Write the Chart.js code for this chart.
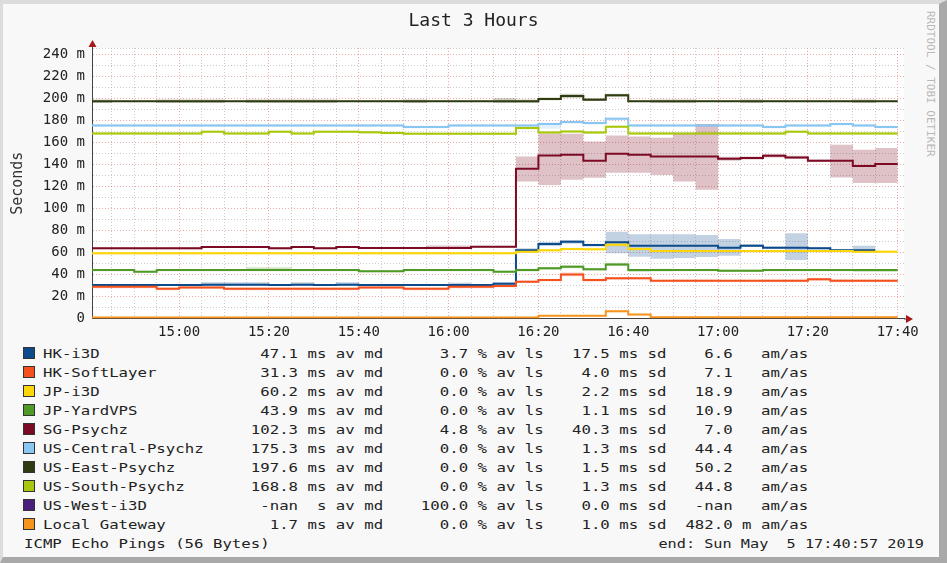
<!DOCTYPE html>
<html>
<head>
<meta charset="utf-8">
<title>Last 3 Hours</title>
<script src="https://cdn.jsdelivr.net/npm/chart.js@4.4.0/dist/chart.umd.min.js"></script>
<style>
  html, body { margin: 0; padding: 0; background: #fff; }
  #frame {
    position: absolute; left: 0; top: 0; width: 947px; height: 563px; box-sizing: border-box;
    background: #f8f8f8;
    border-top: 4px solid #dcdcdc; border-left: 3px solid #dcdcdc;
    border-right: 8px solid #a9a9a9; border-bottom: 6px solid #a9a9a9;
  }
  #chartBox { position: absolute; left: 0; top: 0; width: 947px; height: 340px; }
  .row {
    position: absolute; height: 17px; line-height: 17px;
    font-family: 'DejaVu Sans Mono', monospace; font-size: 13px; color: #222; white-space: pre;
  }
  .sw { position: absolute; left: 23px; width: 10px; height: 10px; border: 1px solid #333; }
  .txt { left: 43px; transform: scaleX(1.207); transform-origin: 0 50%; }
  #brand {
    position: absolute; left: 924px; top: 11px; writing-mode: vertical-rl;
    font: 11px 'DejaVu Sans Mono', monospace; color: #b8b8b8;
  }
</style>
</head>
<body>
<div id="frame"></div>
<div id="brand">RRDTOOL / TOBI OETIKER</div>
<div id="chartBox"><canvas id="myChart" width="947" height="340"></canvas></div>
<div id="legend"></div>
<script>
// 5 minute buckets, start times
const bucketStarts = ['14:40', '14:45', '14:50', '14:55', '15:00', '15:05', '15:10', '15:15', '15:20', '15:25',
    '15:30', '15:35', '15:40', '15:45', '15:50', '15:55', '16:00', '16:05', '16:10', '16:15',
    '16:20', '16:25', '16:30', '16:35', '16:40', '16:45', '16:50', '16:55', '17:00', '17:05',
    '17:10', '17:15', '17:20', '17:25', '17:30', '17:35'];
const bucketMinutes = 5;
const timeTickLabels = ['15:00', '15:20', '15:40', '16:00', '16:20', '16:40', '17:00', '17:20', '17:40'];
const yGridMs = [0, 10, 20, 30, 40, 50, 60, 70, 80, 90, 100, 110, 120, 130, 140, 150, 160, 170, 180, 190, 200, 210, 220, 230, 240, 246];
const yLabelMs = [0, 20, 40, 60, 80, 100, 120, 140, 160, 180, 200, 220, 240];

const targets = ['HK-i3D', 'HK-SoftLayer', 'JP-i3D', 'JP-YardVPS', 'SG-Psychz', 'US-Central-Psychz',
    'US-East-Psychz', 'US-South-Psychz', 'US-West-i3D', 'Local Gateway'];
const targetColors = ['#0b4a8b', '#f4511e', '#fbd70a', '#4f9a27', '#7d0a25', '#8ac6f2',
    '#2f3b10', '#a9c70c', '#4a1f7d', '#f7941d'];

// median per bucket (ms) and smoke band (lo / hi)
const hkI3dMed = [30.4, 30.4, 30.4, 30.4, 30.4, 30.6, 30.6, 30.6, 30.4, 30.6, 30.4, 30.6, 30.4, 30.4, 30.4, 30.4, 30.4, 30.4,
    31.5, 62.0, 67.7, 69.8, 66.8, 69.3, 66.2, 66.2, 66.2, 66.2, 64.4, 66.2, 64.4, 64.4, 63.8, 62.0, 62.0, null];
const hkI3dLo = [30.0, 30.0, 30.0, 30.0, 30.0, 30.0, 30.0, 30.0, 30.0, 30.0, 30.0, 30.0, 30.0, 30.0, 30.0, 30.0, 30.0, 30.0,
    30.6, 60.0, 66.0, 68.0, 65.5, 59.3, 56.2, 54.3, 55.0, 55.9, 57.1, 65.0, 63.5, 53.1, 63.0, 61.0, 60.4, null];
const hkI3dHi = [31.0, 31.0, 31.0, 31.0, 31.0, 33.0, 33.0, 33.0, 31.0, 33.0, 31.0, 33.0, 31.0, 31.0, 31.0, 31.0, 32.6, 31.0,
    33.0, 64.0, 69.5, 71.5, 68.0, 79.0, 76.6, 76.6, 76.6, 75.9, 72.3, 67.5, 65.5, 77.5, 65.0, 63.0, 66.2, null];

const hkSlMed = [28.8, 28.8, 28.8, 27.0, 28.3, 28.3, 27.0, 27.0, 27.0, 27.0, 27.0, 27.0, 28.3, 28.3, 27.0, 27.0, 28.8, 28.8,
    29.6, 33.4, 34.9, 40.1, 34.9, 36.5, 36.5, 34.3, 34.3, 34.3, 34.3, 34.3, 34.3, 34.3, 35.6, 34.3, 34.3, 34.3];
const hkSlLo = [27.5, 27.5, 27.5, 25.8, 27.0, 27.0, 25.8, 25.8, 25.8, 25.8, 25.8, 25.8, 27.0, 27.0, 25.8, 25.8, 27.5, 27.5,
    28.4, 32.2, 33.8, 38.5, 33.6, 35.2, 35.4, 33.4, 33.2, 33.2, 33.4, 33.4, 33.2, 33.2, 34.4, 33.0, 33.2, 33.2];
const hkSlHi = [29.8, 29.8, 29.8, 28.2, 29.4, 29.4, 28.2, 28.2, 28.2, 28.2, 28.2, 28.2, 29.4, 29.4, 28.2, 28.2, 29.8, 29.8,
    30.8, 34.6, 36.0, 41.8, 36.2, 37.8, 37.6, 35.2, 35.4, 35.4, 35.2, 35.2, 35.4, 35.4, 36.8, 35.6, 35.4, 35.4];

const jpI3dMed = [59.3, 59.3, 59.3, 59.3, 59.3, 59.3, 59.3, 59.3, 59.3, 59.3, 59.3, 59.3, 59.3, 59.3, 59.3, 59.3, 59.3, 59.3,
    59.3, 60.7, 62.0, 63.2, 62.9, 67.0, 63.2, 61.3, 61.3, 61.3, 61.3, 61.3, 61.3, 61.3, 61.3, 61.3, 60.8, 60.8];
const jpI3dLo = [58.2, 58.2, 58.2, 58.2, 58.2, 58.2, 58.2, 58.2, 58.2, 58.2, 58.2, 58.2, 58.2, 58.2, 58.2, 58.2, 58.2, 58.2,
    58.2, 59.5, 60.8, 62.0, 61.6, 65.4, 61.8, 60.2, 60.2, 60.2, 60.2, 60.2, 60.2, 60.2, 60.2, 60.2, 59.6, 59.6];
const jpI3dHi = [60.4, 60.4, 60.4, 60.4, 60.4, 60.4, 60.4, 60.4, 60.4, 60.4, 60.4, 60.4, 60.4, 60.4, 60.4, 60.4, 60.4, 60.4,
    60.4, 61.9, 63.2, 64.4, 64.2, 68.6, 64.6, 62.4, 62.4, 62.4, 62.4, 62.4, 62.4, 62.4, 62.4, 62.4, 62.0, 62.0];

const jpYvMed = [44.0, 44.0, 42.5, 44.0, 44.0, 44.0, 44.0, 44.0, 44.0, 44.0, 44.0, 44.0, 43.0, 43.0, 44.0, 44.0, 44.0, 44.0,
    42.5, 44.0, 45.6, 47.0, 44.7, 49.2, 44.0, 44.0, 44.0, 44.0, 43.5, 43.5, 44.0, 44.0, 44.0, 44.0, 44.0, 44.0];
const jpYvLo = [43.0, 43.0, 41.6, 43.0, 43.0, 43.0, 43.0, 43.0, 43.0, 43.0, 43.0, 43.0, 42.0, 42.0, 43.0, 43.0, 43.0, 43.0,
    41.6, 42.8, 44.4, 45.8, 43.6, 47.8, 42.2, 42.8, 43.0, 43.0, 42.4, 42.4, 43.0, 43.0, 43.0, 43.0, 42.2, 42.2];
const jpYvHi = [45.0, 45.0, 43.5, 45.0, 45.0, 45.0, 45.0, 46.5, 46.5, 45.0, 45.0, 45.0, 44.0, 44.0, 45.0, 45.0, 45.0, 45.0,
    43.6, 45.2, 46.8, 48.4, 45.8, 50.6, 45.0, 45.2, 45.0, 45.0, 44.6, 44.6, 45.0, 45.0, 45.0, 45.0, 45.0, 45.0];

const sgMed = [63.8, 63.8, 63.8, 63.8, 63.8, 65.0, 65.0, 65.0, 63.8, 65.0, 64.0, 65.0, 64.2, 64.2, 64.2, 64.2, 64.2, 65.2,
    65.2, 136.1, 148.2, 148.9, 143.4, 149.8, 148.9, 147.3, 147.3, 147.3, 145.2, 145.9, 148.0, 146.4, 143.4, 143.4, 138.8, 140.4];
const sgLo = [63.0, 63.0, 63.0, 63.0, 63.0, 64.2, 64.2, 64.2, 63.0, 64.2, 63.2, 64.2, 63.4, 63.4, 63.4, 63.4, 63.4, 64.4,
    64.4, 124.5, 121.5, 126.1, 127.9, 132.5, 132.5, 130.6, 124.5, 117.0, 143.5, 144.5, 146.5, 145.0, 142.3, 128.2, 123.3, 123.3];
const sgHi = [64.6, 64.6, 64.6, 64.6, 64.6, 65.8, 65.8, 65.8, 64.6, 65.8, 64.8, 65.8, 65.0, 65.0, 65.0, 66.5, 66.5, 66.0,
    66.0, 147.3, 168.0, 168.0, 161.0, 166.5, 165.5, 164.4, 167.7, 176.8, 147.0, 147.3, 149.5, 148.0, 144.6, 158.0, 153.4, 155.0];

const usCenMed = [175.6, 175.6, 175.6, 175.6, 175.6, 175.6, 175.6, 175.6, 175.6, 175.6, 175.6, 175.6, 175.6, 175.6, 174.2, 174.2, 175.6, 175.6,
    175.6, 175.6, 176.8, 178.6, 177.7, 181.6, 175.6, 175.6, 175.6, 175.6, 175.6, 175.6, 174.2, 175.6, 175.6, 176.8, 175.6, 174.2];
const usCenLo = [174.4, 174.4, 174.4, 174.4, 174.4, 174.4, 174.4, 174.4, 174.4, 174.4, 174.4, 174.4, 174.4, 174.4, 173.0, 173.0, 174.4, 174.4,
    174.4, 172.5, 172.5, 177.2, 176.4, 180.2, 174.4, 174.4, 174.4, 174.4, 174.4, 174.4, 173.0, 174.4, 174.4, 175.6, 174.4, 173.0];
const usCenHi = [176.8, 176.8, 176.8, 176.8, 176.8, 176.8, 176.8, 176.8, 176.8, 176.8, 176.8, 176.8, 176.8, 176.8, 175.4, 175.4, 176.8, 176.8,
    176.8, 176.8, 178.0, 179.8, 178.9, 182.8, 176.8, 176.8, 176.8, 176.8, 176.8, 176.8, 175.4, 176.8, 176.8, 178.0, 176.8, 175.4];

const usEastMed = [197.6, 197.6, 197.6, 197.6, 197.6, 197.6, 197.6, 197.6, 197.6, 197.6, 197.6, 197.6, 197.6, 197.6, 197.6, 197.6, 197.6, 197.6,
    197.6, 197.6, 199.6, 202.4, 199.0, 203.0, 197.6, 197.6, 197.6, 197.6, 197.6, 197.6, 197.6, 197.6, 197.6, 197.6, 197.6, 197.6];
const usEastLo = [196.0, 197.0, 197.0, 196.0, 196.0, 196.0, 197.0, 196.0, 196.0, 196.0, 196.0, 197.0, 197.0, 197.0, 196.0, 197.0, 197.0, 197.0,
    196.0, 196.0, 198.5, 200.5, 198.0, 201.5, 197.0, 196.0, 196.0, 197.0, 197.0, 196.0, 197.0, 197.0, 197.0, 197.0, 196.0, 197.0];
const usEastHi = [199.2, 198.2, 198.2, 199.2, 199.2, 199.2, 198.2, 199.2, 199.2, 199.2, 199.2, 198.2, 198.2, 198.2, 199.2, 198.2, 198.2, 198.2,
    200.2, 199.2, 201.0, 204.5, 200.5, 204.5, 198.2, 199.2, 199.2, 198.2, 198.2, 199.2, 198.2, 198.2, 198.2, 198.2, 199.2, 198.2];

const usSouthMed = [168.3, 168.3, 168.3, 168.3, 168.3, 169.8, 168.3, 168.3, 169.8, 168.3, 169.8, 169.8, 169.3, 168.8, 168.0, 168.0, 168.0, 168.0,
    168.0, 173.2, 169.2, 170.1, 169.2, 174.4, 168.3, 168.3, 168.3, 168.3, 168.3, 168.3, 168.3, 169.8, 168.3, 168.3, 168.3, 168.3];
const usSouthLo = [167.1, 167.1, 167.1, 167.1, 167.1, 168.6, 167.1, 167.1, 168.6, 167.1, 168.6, 168.6, 168.1, 167.6, 166.8, 166.8, 166.8, 166.8,
    166.8, 172.0, 168.0, 168.9, 168.0, 173.2, 167.1, 167.1, 167.1, 167.1, 167.1, 167.1, 167.1, 168.6, 167.1, 167.1, 167.1, 167.1];
const usSouthHi = [169.5, 169.5, 169.5, 169.5, 169.5, 171.0, 169.5, 169.5, 171.0, 169.5, 171.0, 171.0, 170.5, 170.0, 169.2, 169.2, 169.2, 169.2,
    169.2, 174.4, 170.4, 171.3, 170.4, 175.6, 169.5, 169.5, 169.5, 169.5, 169.5, 169.5, 169.5, 171.0, 169.5, 169.5, 169.5, 169.5];

// 100% loss, nothing to draw
const usWestMed = [null, null, null, null, null, null, null, null, null, null, null, null, null, null, null, null, null, null,
    null, null, null, null, null, null, null, null, null, null, null, null, null, null, null, null, null, null];

const lgMed = [1.0, 1.0, 1.0, 1.0, 1.0, 1.0, 1.0, 1.0, 1.0, 1.0, 1.0, 1.0, 1.0, 1.0, 1.0, 1.0, 1.0, 1.0,
    1.0, 1.0, 2.4, 2.4, 2.4, 6.7, 3.6, 1.2, 1.2, 1.2, 1.2, 1.2, 1.2, 1.2, 1.2, 1.2, 1.2, 1.2];
const lgLo = [0.5, 0.5, 0.5, 0.5, 0.5, 0.5, 0.5, 0.5, 0.5, 0.5, 0.5, 0.5, 0.5, 0.5, 0.5, 0.5, 0.5, 0.5,
    0.5, 0.5, 1.8, 1.8, 1.8, 5.6, 2.8, 0.6, 0.6, 0.6, 0.6, 0.6, 0.6, 0.6, 0.6, 0.6, 0.6, 0.6];
const lgHi = [1.5, 1.5, 1.5, 1.5, 1.5, 1.5, 1.5, 1.5, 1.5, 1.5, 1.5, 1.5, 1.5, 1.5, 1.5, 1.5, 1.5, 1.5,
    1.5, 1.5, 3.0, 3.0, 3.0, 7.6, 4.4, 1.8, 1.8, 1.8, 1.8, 1.8, 1.8, 1.8, 1.8, 1.8, 1.8, 1.8];

// legend statistics
const avgMedianMs = [47.1, 31.3, 60.2, 43.9, 102.3, 175.3, 197.6, 168.8, NaN, 1.7];
const avgLossPct = [3.7, 0.0, 0.0, 0.0, 4.8, 0.0, 0.0, 0.0, 100.0, 0.0];
const sdMs = [17.5, 4.0, 2.2, 1.1, 40.3, 1.3, 1.5, 1.3, 0.0, 1.0];
const amAs = [6.6, 7.1, 18.9, 10.9, 7.0, 44.4, 50.2, 44.8, NaN, 0.482];

const medians = [hkI3dMed, hkSlMed, jpI3dMed, jpYvMed, sgMed, usCenMed, usEastMed, usSouthMed, usWestMed, lgMed];
const bandLo = [hkI3dLo, hkSlLo, jpI3dLo, jpYvLo, sgLo, usCenLo, usEastLo, usSouthLo, null, lgLo];
const bandHi = [hkI3dHi, hkSlHi, jpI3dHi, jpYvHi, sgHi, usCenHi, usEastHi, usSouthHi, null, lgHi];

function toMin(t) {
    const p = t.split(':');
    return Number(p[0]) * 60 + Number(p[1]);
}

function minToLabel(m) {
    return String(Math.floor(m / 60)).padStart(2, '0') + ':' + String(m % 60).padStart(2, '0');
}

// each bucket becomes a flat piece from its start to its end
function stepPts(vals) {
    const pts = [];
    vals.forEach((v, i) => {
        const x0 = toMin(bucketStarts[i]);
        pts.push({ x: x0, y: v }, { x: x0 + bucketMinutes, y: v });
    });
    return pts;
}

function hexToRgba(hex, a) {
    const n = parseInt(hex.slice(1), 16);
    return `rgba(${(n >> 16) & 255},${(n >> 8) & 255},${n & 255},${a})`;
}

const firstMin = toMin(bucketStarts[0]);
const lastMin = toMin(bucketStarts[bucketStarts.length - 1]) + bucketMinutes;
const xGrid = bucketStarts.slice(1).map(toMin).concat([lastMin]);
const tickLabelMins = timeTickLabels.map(toMin);

// datasets: bands first (behind), then median lines
const datasets = [];
targets.forEach((name, i) => {
    if (bandLo[i]) {
        datasets.push({
            label: name + ' lo', data: stepPts(bandLo[i]),
            borderWidth: 0, borderColor: 'rgba(0,0,0,0)', pointRadius: 0, fill: false, order: 100
        });
        datasets.push({
            label: name + ' hi', data: stepPts(bandHi[i]),
            borderWidth: 0, borderColor: 'rgba(0,0,0,0)', pointRadius: 0,
            fill: '-1', backgroundColor: hexToRgba(targetColors[i], 0.25), order: 100
        });
    }
});
targets.forEach((name, i) => {
    datasets.push({
        label: name, data: stepPts(medians[i]),
        borderColor: targetColors[i], borderWidth: 2, pointRadius: 0, fill: false,
        order: 10 - i
    });
});

const majorGrid = 'rgba(225,110,110,0.6)';
const minorGrid = 'rgba(160,160,160,0.55)';

// white plot area and the red axis arrows
const rrdPlugin = {
    id: 'rrdLook',
    beforeDraw(chart) {
        const a = chart.chartArea;
        const c = chart.ctx;
        c.save();
        c.fillStyle = '#ffffff';
        c.fillRect(a.left, a.top, a.right - a.left, a.bottom - a.top);
        c.restore();
    },
    afterDraw(chart) {
        const a = chart.chartArea;
        const c = chart.ctx;
        c.save();
        c.strokeStyle = '#444';
        c.lineWidth = 1;
        c.beginPath();
        c.moveTo(a.left + 0.5, a.top);
        c.lineTo(a.left + 0.5, a.top - 4);
        c.moveTo(a.right, a.bottom + 0.5);
        c.lineTo(a.right + 5, a.bottom + 0.5);
        c.stroke();
        c.fillStyle = '#a81818';
        c.beginPath();
        c.moveTo(a.left + 0.5, a.top - 8);
        c.lineTo(a.left - 3.5, a.top - 1);
        c.lineTo(a.left + 4.5, a.top - 1);
        c.closePath();
        c.fill();
        c.beginPath();
        c.moveTo(a.right + 9, a.bottom + 0.5);
        c.lineTo(a.right + 2, a.bottom - 3.5);
        c.lineTo(a.right + 2, a.bottom + 4.5);
        c.closePath();
        c.fill();
        c.restore();
    }
};

Chart.defaults.font.family = "'DejaVu Sans Mono', monospace";

const ctx = document.getElementById('myChart');
const chart = new Chart(ctx, {
    type: 'line',
    data: { datasets: datasets },
    plugins: [rrdPlugin],
    options: {
        responsive: false,
        animation: false,
        events: [],
        layout: { padding: 0 },
        plugins: {
            legend: { display: false },
            tooltip: { enabled: false },
            title: {
                display: true,
                text: 'Last 3 Hours',
                color: '#222',
                font: { size: 18, weight: 'normal' },
                padding: { top: 11, bottom: 15.4 }
            }
        },
        scales: {
            x: {
                type: 'linear',
                min: firstMin + 0.6,
                max: lastMin + 1.4,
                afterBuildTicks: (scale) => { scale.ticks = xGrid.map(v => ({ value: v })); },
                afterFit: (scale) => { scale.height = 21.5; },
                ticks: {
                    autoSkip: false,
                    maxRotation: 0,
                    padding: 5,
                    color: '#222',
                    font: { size: 14 },
                    callback: (value) => tickLabelMins.includes(value) ? minToLabel(value) : ''
                },
                grid: {
                    drawTicks: false,
                    lineWidth: 1,
                    color: (c) => (c.tick && c.tick.value % 20 === 0) ? majorGrid : minorGrid
                },
                border: { display: true, color: '#444', width: 1, dash: [1, 2] }
            },
            y: {
                type: 'linear',
                min: 0,
                max: 246,
                afterBuildTicks: (scale) => { scale.ticks = yGridMs.map(v => ({ value: v })); },
                afterFit: (scale) => { scale.width = 92; },
                ticks: {
                    autoSkip: false,
                    padding: 7,
                    color: '#222',
                    font: { size: 14 },
                    callback: (value) => yLabelMs.includes(value) ? (value === 0 ? '0' : value + ' m') : ''
                },
                grid: {
                    drawTicks: false,
                    lineWidth: 1,
                    color: (c) => (c.tick && c.tick.value % 20 === 0 && c.tick.value !== 0) ? majorGrid : minorGrid
                },
                border: { display: true, color: '#444', width: 1, dash: [1, 2] },
                title: {
                    display: true,
                    text: 'Seconds',
                    color: '#333',
                    font: { size: 15 },
                    padding: { top: 9, bottom: 0 }
                }
            },
            // empty right margin so the title stays centred on the whole image
            margin: {
                type: 'linear',
                position: 'right',
                display: true,
                afterFit: (scale) => { scale.width = 43; },
                ticks: { display: false },
                grid: { display: false, drawOnChartArea: false },
                border: { display: false }
            }
        }
    }
});

// legend rows, rrdtool style fixed columns
function fmt5(v) {
    return (isNaN(v) ? '-nan' : v.toFixed(1)).padStart(5);
}

const legend = document.getElementById('legend');
const rowTop = 353.4;
const rowStep = 19.0;

targets.forEach((name, i) => {
    const y = rowTop + rowStep * i;
    const sw = document.createElement('div');
    sw.className = 'sw';
    sw.style.top = (y - 6) + 'px';
    sw.style.background = targetColors[i];
    legend.appendChild(sw);

    const medPrefix = isNaN(avgMedianMs[i]) ? ' ' : 'm';
    let am = amAs[i];
    let amPrefix = ' ';
    if (!isNaN(am) && am < 1) {
        am = am * 1000;
        amPrefix = 'm';
    }
    const line = name.padEnd(22) + fmt5(avgMedianMs[i]) + ' ' + medPrefix + 's av md' +
        '    ' + fmt5(avgLossPct[i]) + ' % av ls' +
        '  ' + fmt5(sdMs[i]) + ' ms sd' +
        '  ' + fmt5(am) + ' ' + amPrefix + ' am/as';
    const row = document.createElement('div');
    row.className = 'row txt';
    row.style.top = (y - 8.5) + 'px';
    row.textContent = line;
    legend.appendChild(row);
});

const footY = rowTop + rowStep * targets.length;
const footLeft = document.createElement('div');
footLeft.className = 'row';
footLeft.style.left = '24px';
footLeft.style.top = (footY - 8.5) + 'px';
footLeft.style.transform = 'scaleX(1.207)';
footLeft.style.transformOrigin = '0 50%';
footLeft.textContent = 'ICMP Echo Pings (56 Bytes)';
legend.appendChild(footLeft);

const footRight = document.createElement('div');
footRight.className = 'row';
footRight.style.right = (947 - 924) + 'px';
footRight.style.top = (footY - 8.5) + 'px';
footRight.style.transform = 'scaleX(1.17)';
footRight.style.transformOrigin = '100% 50%';
footRight.textContent = 'end: Sun May  5 17:40:57 2019';
legend.appendChild(footRight);
</script>
</body>
</html>
